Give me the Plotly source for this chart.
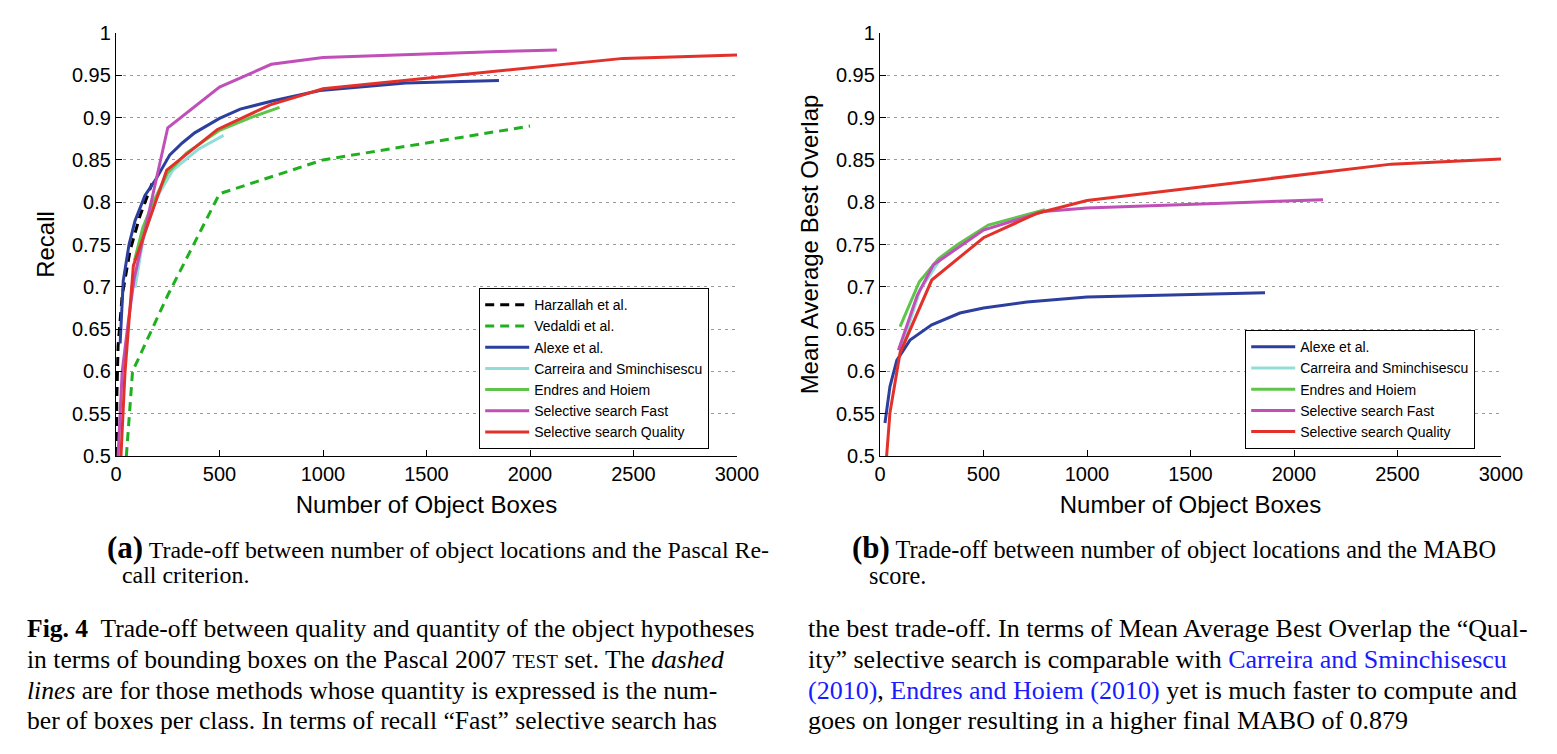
import plotly.graph_objects as go

W, H = 1557, 754

# ---------------- data: (a) Recall ----------------
harz_x = [2, 4, 10, 30, 68, 116, 174]
harz_y = [0.50, 0.57, 0.63, 0.69, 0.743, 0.784, 0.822]

vedaldi_x = [50, 80, 250, 500, 1000, 2000]
vedaldi_y = [0.50, 0.60, 0.69, 0.81, 0.85, 0.89]

alexe_r_x = [20, 35, 63, 92, 140, 190, 260, 320, 380, 440, 500, 600, 760, 985, 1200, 1400, 1850]
alexe_r_y = [0.633, 0.707, 0.75, 0.778, 0.808, 0.826, 0.856, 0.870, 0.882, 0.891, 0.899, 0.910, 0.920, 0.932, 0.937, 0.941, 0.944]

carr_r_x = [92, 130, 188, 275, 400, 520]
carr_r_y = [0.699, 0.755, 0.802, 0.838, 0.863, 0.879]

endres_r_x = [89, 130, 180, 250, 340, 500, 650, 790]
endres_r_y = [0.731, 0.770, 0.800, 0.835, 0.858, 0.885, 0.900, 0.912]

fast_r_x = [10, 30, 60, 88, 250, 500, 750, 1000, 1850, 2130]
fast_r_y = [0.50, 0.60, 0.66, 0.71, 0.888, 0.936, 0.963, 0.971, 0.978, 0.980]

qual_r_x = [24, 43, 58, 84, 245, 490, 745, 1000, 2450, 3000]
qual_r_y = [0.50, 0.597, 0.645, 0.725, 0.838, 0.886, 0.915, 0.934, 0.970, 0.974]

# ---------------- data: (b) MABO ----------------
alexe_m_x = [24, 48, 81, 145, 250, 386, 500, 710, 1000, 1350, 1860]
alexe_m_y = [0.539, 0.582, 0.613, 0.637, 0.655, 0.669, 0.675, 0.682, 0.688, 0.690, 0.693]

carr_m_x = [97, 193, 290, 386, 515]
carr_m_y = [0.623, 0.696, 0.732, 0.751, 0.771]

endres_m_x = [97, 190, 282, 370, 523, 797]
endres_m_y = [0.653, 0.706, 0.733, 0.749, 0.773, 0.791]

fast_m_x = [89, 180, 258, 500, 790, 1000, 2140]
fast_m_y = [0.625, 0.690, 0.726, 0.767, 0.789, 0.793, 0.803]

qual_m_x = [32, 48, 97, 250, 500, 760, 1000, 2470, 3000]
qual_m_y = [0.500, 0.551, 0.622, 0.708, 0.758, 0.787, 0.802, 0.845, 0.851]

x_ticks = [0, 500, 1000, 1500, 2000, 2500, 3000]
y_ticks = [0.5, 0.55, 0.6, 0.65, 0.7, 0.75, 0.8, 0.85, 0.9, 0.95, 1.0]
y_ticktext = ["0.5", "0.55", "0.6", "0.65", "0.7", "0.75", "0.8", "0.85", "0.9", "0.95", "1"]

C_BLACK = "#000000"
C_VED = "#1fb01f"
C_ALEXE = "#2d3f9e"
C_CARR = "#93ddd8"
C_ENDRES = "#5ec44a"
C_FAST = "#c04fb8"
C_QUAL = "#e2312a"

SANS = "Liberation Sans, Arial, Helvetica, sans-serif"
SERIF = "Liberation Serif, Times New Roman, serif"

fig = go.Figure()

def add(x, y, name, color, xa, ya, legend, dash=None):
    fig.add_trace(go.Scatter(
        x=x, y=y, mode="lines", name=name,
        line=dict(color=color, width=3, dash=dash),
        xaxis=xa, yaxis=ya, legend=legend, showlegend=True,
    ))

DASH = "9px,6px"
add(harz_x, harz_y, "Harzallah et al.", C_BLACK, "x", "y", "legend", DASH)
add(vedaldi_x, vedaldi_y, "Vedaldi et al.", C_VED, "x", "y", "legend", DASH)
add(alexe_r_x, alexe_r_y, "Alexe et al.", C_ALEXE, "x", "y", "legend")
add(carr_r_x, carr_r_y, "Carreira and Sminchisescu", C_CARR, "x", "y", "legend")
add(endres_r_x, endres_r_y, "Endres and Hoiem", C_ENDRES, "x", "y", "legend")
add(fast_r_x, fast_r_y, "Selective search Fast", C_FAST, "x", "y", "legend")
add(qual_r_x, qual_r_y, "Selective search Quality", C_QUAL, "x", "y", "legend")

add(alexe_m_x, alexe_m_y, "Alexe et al.", C_ALEXE, "x2", "y2", "legend2")
add(carr_m_x, carr_m_y, "Carreira and Sminchisescu", C_CARR, "x2", "y2", "legend2")
add(endres_m_x, endres_m_y, "Endres and Hoiem", C_ENDRES, "x2", "y2", "legend2")
add(fast_m_x, fast_m_y, "Selective search Fast", C_FAST, "x2", "y2", "legend2")
add(qual_m_x, qual_m_y, "Selective search Quality", C_QUAL, "x2", "y2", "legend2")

def px(v):
    return v / W

def py(v):
    return 1 - v / H

plot_top, plot_bot = 33, 456

def xaxis(dom):
    return dict(
        domain=[px(dom[0]), px(dom[1])], range=[0, 3000], automargin=False,
        tickvals=x_ticks, ticktext=[str(t) for t in x_ticks],
        showgrid=False, zeroline=False, showline=True, linecolor="black", linewidth=1.3,
        ticks="inside", ticklen=6, tickwidth=1, tickcolor="black",
        tickfont=dict(family=SANS, size=20, color="black"),
        title=dict(text="Number of Object Boxes", font=dict(family=SANS, size=24, color="black"), standoff=12),
        fixedrange=True,
    )

def yaxis(title, anchor):
    return dict(
        domain=[py(plot_bot), py(plot_top)], range=[0.5, 1.0], anchor=anchor, automargin=False,
        tickvals=y_ticks, ticktext=y_ticktext,
        showgrid=False, zeroline=False, showline=True, linecolor="black", linewidth=1.3,
        ticks="inside", ticklen=6, tickwidth=1, tickcolor="black",
        tickfont=dict(family=SANS, size=20, color="black"),
        minor=dict(tickmode="array", tickvals=y_ticks[1:-1], showgrid=True,
                   gridcolor="#9a9a9a", gridwidth=1.2, griddash="3px,4px", ticks=""),
        title=dict(text=title, font=dict(family=SANS, size=24, color="black"), standoff=10),
        fixedrange=True,
    )

leg_common = dict(
    bgcolor="white", bordercolor="black", borderwidth=1.2,
    font=dict(family=SANS, size=14, color="black"),
    itemwidth=44, tracegroupgap=0, xanchor="left", yanchor="bottom",
)

fig.update_layout(
    template="none",
    width=W, height=H, autosize=False,
    margin=dict(l=0, r=0, t=0, b=0, pad=0),
    paper_bgcolor="white", plot_bgcolor="white",
    xaxis=dict(**xaxis((116, 737)), anchor="y"),
    yaxis=yaxis("Recall", "x"),
    xaxis2=dict(**xaxis((880, 1501)), anchor="y2"),
    yaxis2=yaxis("Mean Average Best Overlap", "x2"),
    legend=dict(**leg_common, x=px(479), y=py(449)),
    legend2=dict(**leg_common, x=px(1245), y=py(449)),
)

def note(x, y, text, size=26, color="black"):
    fig.add_annotation(
        x=px(x), y=py(y), xref="paper", yref="paper", text=text, showarrow=False,
        xanchor="left", yanchor="middle", align="left",
        font=dict(family=SERIF, size=size, color=color),
    )

BL = "<span style='color:#1a1aff'>%s</span>"
SC = "<span style='font-size:19px'>TEST</span>"

note(105, 547, "<b><span style='font-size:31px'>(a)</span></b> Trade-off between number of object locations and the Pascal Re-", 23.9)
note(120, 575, "call criterion.", 23.9)
note(850, 547, "<b><span style='font-size:31px'>(b)</span></b> Trade-off between number of object locations and the MABO", 24.3)
note(867, 575, "score.", 24.3)

note(25, 628, "<b>Fig. 4</b>  Trade-off between quality and quantity of the object hypotheses", 25.6)
note(25, 659, "in terms of bounding boxes on the Pascal 2007 " + SC + " set. The <i>dashed</i>", 25.6)
note(25, 690, "<i>lines</i> are for those methods whose quantity is expressed is the num-", 25.6)
note(25, 720, "ber of boxes per class. In terms of recall \u201cFast\u201d selective search has", 25.6)

note(806, 628, "the best trade-off. In terms of Mean Average Best Overlap the \u201cQual-")
note(806, 659, "ity\u201d selective search is comparable with " + BL % "Carreira and Sminchisescu")
note(806, 690, BL % "(2010)" + ", " + BL % "Endres and Hoiem" + " " + BL % "(2010)" + " yet is much faster to compute and")
note(806, 720, "goes on longer resulting in a higher final MABO of 0.879")

fig.write_html("out.html", config={"displayModeBar": False},
               post_script="document.body.style.margin='0';")
